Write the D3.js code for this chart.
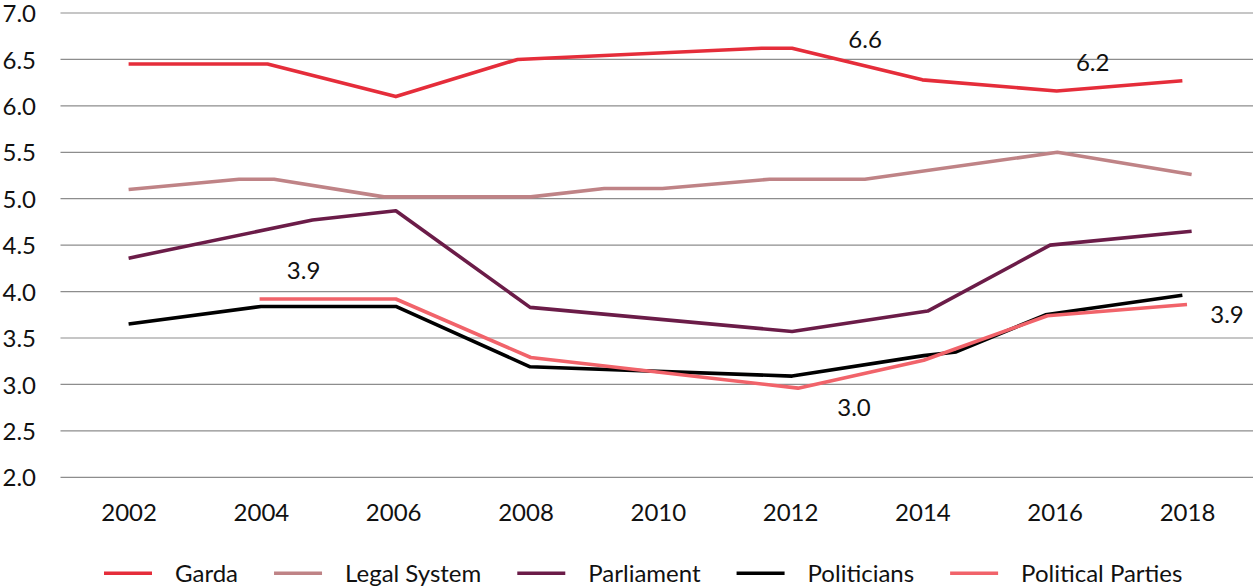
<!DOCTYPE html>
<html>
<head>
<meta charset="utf-8">
<script src="https://cdn.jsdelivr.net/npm/d3@7"></script>
<style>
  html, body { margin: 0; padding: 0; background: #fff; }
  svg { display: block; font-family: Lato, "Open Sans", sans-serif; }
</style>
</head>
<body>
<svg id="chart" width="1255" height="588"></svg>
<script>
// Survey years (fractional = fieldwork timing) and mean trust scores, 0-10 scale
const gardaYears   = [2002.00, 2004.10, 2006.04, 2007.88, 2011.57, 2012.03, 2014.00, 2016.03, 2017.93];
const gardaValues  = [6.45, 6.45, 6.10, 6.50, 6.62, 6.62, 6.28, 6.16, 6.27];

const legalYears   = [2002.00, 2003.67, 2004.20, 2005.86, 2008.08, 2009.19, 2010.07, 2011.69, 2013.13, 2016.04, 2018.07];
const legalValues  = [5.10, 5.21, 5.21, 5.02, 5.02, 5.11, 5.11, 5.21, 5.21, 5.50, 5.26];

const parliamentYears  = [2002.00, 2004.78, 2006.04, 2008.07, 2012.03, 2014.08, 2015.93, 2018.07];
const parliamentValues = [4.36, 4.77, 4.87, 3.83, 3.57, 3.79, 4.50, 4.65];

const politiciansYears  = [2002.00, 2004.00, 2006.04, 2008.07, 2012.03, 2014.02, 2014.51, 2015.86, 2017.93];
const politiciansValues = [3.65, 3.84, 3.84, 3.19, 3.09, 3.31, 3.35, 3.75, 3.96];

const partiesYears  = [2003.98, 2006.04, 2008.08, 2012.12, 2014.02, 2015.89, 2018.00];
const partiesValues = [3.92, 3.92, 3.29, 2.96, 3.26, 3.74, 3.86];

const seriesNames = ["Garda", "Legal System", "Parliament", "Politicians", "Political Parties"];
const xTickYears  = [2002, 2004, 2006, 2008, 2010, 2012, 2014, 2016, 2018];
const yTickValues = [2.0, 2.5, 3.0, 3.5, 4.0, 4.5, 5.0, 5.5, 6.0, 6.5, 7.0];

// Point labels: which series/point they describe
const labelSeries = ["Garda", "Garda", "Political Parties", "Political Parties", "Political Parties"];
const labelIndex  = [5, 7, 0, 3, 6];

// ---- styling & layout ----
const colors = {
  "Garda": "#e52d3a",
  "Legal System": "#bf8386",
  "Parliament": "#6b1c48",
  "Politicians": "#000000",
  "Political Parties": "#f1636a"
};
const labelOffsets = [[73, -9], [36, -29], [44, -29], [56, 19], [40, 10]];

const series = [
  { name: "Garda", years: gardaYears, values: gardaValues },
  { name: "Legal System", years: legalYears, values: legalValues },
  { name: "Parliament", years: parliamentYears, values: parliamentValues },
  { name: "Politicians", years: politiciansYears, values: politiciansValues },
  { name: "Political Parties", years: partiesYears, values: partiesValues }
].map(s => ({ ...s, points: s.years.map((yr, i) => ({ yr, v: s.values[i] })) }));

const svg = d3.select("#chart");
const plotLeft = 60.5, plotRight = 1253;

const x = d3.scaleLinear().domain([2002, 2018]).range([128.6, 1187]);
const y = d3.scaleLinear().domain([2, 7]).range([477.3, 13]);
const fmt = d3.format(".1f");

// horizontal gridlines
svg.append("g")
  .selectAll("line")
  .data(yTickValues)
  .join("line")
  .attr("x1", plotLeft).attr("x2", plotRight)
  .attr("y1", d => y(d)).attr("y2", d => y(d))
  .attr("stroke", "#8d8d8d")
  .attr("stroke-width", 1.2);

// y axis labels
const yAxis = d3.axisLeft(y).tickValues(yTickValues).tickFormat(fmt).tickSize(0).tickPadding(0);
svg.append("g")
  .attr("transform", "translate(36,0)")
  .call(yAxis)
  .call(g => g.select(".domain").remove())
  .call(g => g.selectAll("text")
    .attr("font-family", "Lato, 'Open Sans', sans-serif")
    .attr("font-size", 24)
    .attr("fill", "#111")
    .attr("dy", "0.36em"));

// x axis labels
const xAxis = d3.axisBottom(x).tickValues(xTickYears).tickFormat(d3.format("d")).tickSize(0).tickPadding(0);
svg.append("g")
  .attr("transform", "translate(0,504)")
  .call(xAxis)
  .call(g => g.select(".domain").remove())
  .call(g => g.selectAll("text")
    .attr("font-family", "Lato, 'Open Sans', sans-serif")
    .attr("font-size", 24)
    .attr("fill", "#111")
    .attr("dy", "0.72em"));

// lines
const line = d3.line().x(d => x(d.yr)).y(d => y(d.v));
svg.append("g")
  .selectAll("path")
  .data(series)
  .join("path")
  .attr("d", d => line(d.points))
  .attr("fill", "none")
  .attr("stroke", d => colors[d.name])
  .attr("stroke-width", 3.6)
  .attr("stroke-linejoin", "round")
  .attr("stroke-linecap", "butt");

// point value labels
const byName = Object.fromEntries(series.map(s => [s.name, s]));
svg.append("g")
  .selectAll("text")
  .data(labelSeries.map((n, i) => ({ p: byName[n].points[labelIndex[i]], off: labelOffsets[i] })))
  .join("text")
  .attr("x", d => x(d.p.yr) + d.off[0])
  .attr("y", d => y(d.p.v) + d.off[1])
  .attr("dy", "0.36em")
  .attr("text-anchor", "middle")
  .attr("font-size", 24)
  .attr("fill", "#111")
  .text(d => fmt(d.p.v));

// legend
const legend = svg.append("g").attr("transform", "translate(104,573.3)");
let cursor = 0;
seriesNames.forEach(name => {
  const item = legend.append("g").attr("transform", `translate(${cursor},0)`);
  item.append("line")
    .attr("x1", 0).attr("x2", 48).attr("y1", 0).attr("y2", 0)
    .attr("stroke", colors[name]).attr("stroke-width", 3.6);
  const t = item.append("text")
    .attr("x", 71).attr("y", 0).attr("dy", "0.36em")
    .attr("font-size", 24).attr("fill", "#111")
    .text(name);
  cursor += 71 + t.node().getComputedTextLength() + 36;
});
</script>
</body>
</html>
